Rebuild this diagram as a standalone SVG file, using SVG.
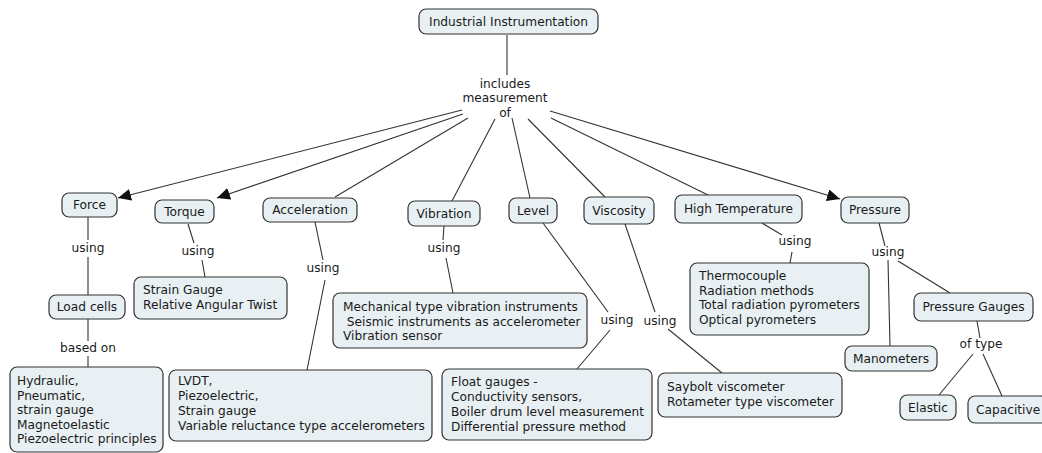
<svg xmlns="http://www.w3.org/2000/svg" width="1042" height="453" viewBox="0 0 1042 453">
<style>
.n{fill:#e8f0f3;stroke:#333;stroke-width:1.2}
text{font-family:"DejaVu Sans","Verdana",sans-serif;font-size:12.2px;fill:#1a1a1a}
.c{text-anchor:middle}
.l{fill:none;stroke:#333;stroke-width:1.1}
</style>
<defs>
<marker id="ah" markerUnits="userSpaceOnUse" markerWidth="14" markerHeight="12" refX="13" refY="6" orient="auto">
<path d="M0,0 L13,6 L0,12 Z" fill="#111"/>
</marker>
</defs>
<rect width="1042" height="453" fill="#fff"/>
<g id="connectors">
<line class="l" x1="507" y1="35" x2="507" y2="75"/>
<line class="l" x1="462" y1="110" x2="118" y2="198" marker-end="url(#ah)"/>
<line class="l" x1="463" y1="114" x2="217" y2="198" marker-end="url(#ah)"/>
<line class="l" x1="468" y1="118" x2="335" y2="197"/>
<line class="l" x1="495" y1="119" x2="452" y2="201"/>
<line class="l" x1="512" y1="118" x2="530" y2="198"/>
<line class="l" x1="528" y1="119" x2="605" y2="197"/>
<line class="l" x1="551" y1="118" x2="708" y2="195"/>
<line class="l" x1="550" y1="111" x2="840" y2="199" marker-end="url(#ah)"/>
<line class="l" x1="88" y1="217" x2="88" y2="240"/>
<line class="l" x1="88" y1="257" x2="88" y2="295"/>
<line class="l" x1="88" y1="319" x2="88" y2="341"/>
<line class="l" x1="88" y1="356" x2="88" y2="367"/>
<line class="l" x1="188" y1="224" x2="194" y2="243"/>
<line class="l" x1="202" y1="260" x2="205" y2="277"/>
<line class="l" x1="315" y1="222" x2="323" y2="260"/>
<line class="l" x1="325" y1="280" x2="307" y2="370"/>
<line class="l" x1="444" y1="226" x2="443" y2="240"/>
<line class="l" x1="446" y1="258" x2="453" y2="293"/>
<line class="l" x1="543" y1="223" x2="608" y2="312"/>
<line class="l" x1="610" y1="330" x2="577" y2="369"/>
<line class="l" x1="625" y1="224" x2="655" y2="312"/>
<line class="l" x1="668" y1="329" x2="722" y2="373"/>
<line class="l" x1="762" y1="223" x2="782" y2="235"/>
<line class="l" x1="792" y1="252" x2="790" y2="263"/>
<line class="l" x1="879" y1="223" x2="885" y2="246"/>
<line class="l" x1="888" y1="260" x2="890" y2="346"/>
<line class="l" x1="898" y1="261" x2="950" y2="293"/>
<line class="l" x1="977" y1="321" x2="980" y2="338"/>
<line class="l" x1="973" y1="354" x2="939" y2="395"/>
<line class="l" x1="983" y1="354" x2="1002" y2="396"/>
</g>
<g id="link-labels">
<text class="c" x="505" y="88">includes</text>
<text class="c" x="505" y="102">measurement</text>
<text class="c" x="505" y="116.5">of</text>
<text class="c" x="88" y="252">using</text>
<text class="c" x="88" y="352">based on</text>
<text class="c" x="198" y="255">using</text>
<text class="c" x="323" y="272">using</text>
<text class="c" x="444" y="252">using</text>
<text class="c" x="617" y="324">using</text>
<text class="c" x="660" y="325">using</text>
<text class="c" x="795" y="245">using</text>
<text class="c" x="888" y="256">using</text>
<text class="c" x="981" y="348">of type</text>
</g>
<g id="n-industrial"><rect class="n" x="419" y="9" width="179" height="25" rx="7"/><text class="c" x="508.5" y="26">Industrial Instrumentation</text></g>
<g id="n-force"><rect class="n" x="62" y="193" width="55" height="24" rx="7"/><text class="c" x="89.5" y="209">Force</text></g>
<g id="n-torque"><rect class="n" x="155" y="200" width="59" height="23" rx="7"/><text class="c" x="184.5" y="215.5">Torque</text></g>
<g id="n-acceleration"><rect class="n" x="263" y="198" width="94" height="24" rx="7"/><text class="c" x="310" y="214">Acceleration</text></g>
<g id="n-vibration"><rect class="n" x="408" y="201" width="72" height="25" rx="7"/><text class="c" x="444" y="217.5">Vibration</text></g>
<g id="n-level"><rect class="n" x="509" y="198" width="48" height="25" rx="7"/><text class="c" x="533" y="214.5">Level</text></g>
<g id="n-viscosity"><rect class="n" x="584" y="197" width="70" height="27" rx="7"/><text class="c" x="619" y="214.5">Viscosity</text></g>
<g id="n-hightemp"><rect class="n" x="675" y="195" width="127" height="28" rx="7"/><text class="c" x="738.5" y="213">High Temperature</text></g>
<g id="n-pressure"><rect class="n" x="841" y="197" width="68" height="26" rx="7"/><text class="c" x="875" y="214">Pressure</text></g>
<g id="n-loadcells"><rect class="n" x="49" y="295" width="76" height="24" rx="7"/><text class="c" x="87" y="311">Load cells</text></g>
<g id="n-torque-methods"><rect class="n" x="134" y="277" width="153" height="42" rx="7"/><text x="143" y="294">Strain Gauge</text><text x="143" y="309">Relative Angular Twist</text></g>
<g id="n-loadcell-principles"><rect class="n" x="10" y="367" width="153" height="85" rx="7"/><text x="17" y="385">Hydraulic,</text><text x="17" y="399.5">Pneumatic,</text><text x="17" y="414">strain gauge</text><text x="17" y="428.5">Magnetoelastic</text><text x="17" y="443">Piezoelectric principles</text></g>
<g id="n-accel-methods"><rect class="n" x="169" y="370" width="263" height="71" rx="7"/><text x="178" y="385">LVDT,</text><text x="178" y="400">Piezoelectric,</text><text x="178" y="415">Strain gauge</text><text x="178" y="430">Variable reluctance type accelerometers</text></g>
<g id="n-vib-methods"><rect class="n" x="333" y="293" width="254" height="55" rx="7"/><text x="343" y="311">Mechanical type vibration instruments</text><text x="343" y="326" xml:space="preserve"> Seismic instruments as accelerometer</text><text x="343" y="340">Vibration sensor</text></g>
<g id="n-level-methods"><rect class="n" x="442" y="369" width="210" height="71" rx="7"/><text x="451" y="386">Float gauges -</text><text x="451" y="401">Conductivity sensors,</text><text x="451" y="416">Boiler drum level measurement</text><text x="451" y="431">Differential pressure method</text></g>
<g id="n-visc-methods"><rect class="n" x="658" y="373" width="184" height="44" rx="7"/><text x="667" y="391">Saybolt viscometer</text><text x="667" y="406">Rotameter type viscometer</text></g>
<g id="n-temp-methods"><rect class="n" x="690" y="263" width="179" height="72" rx="7"/><text x="699" y="280">Thermocouple</text><text x="699" y="294.5">Radiation methods</text><text x="699" y="309">Total radiation pyrometers</text><text x="699" y="323.5">Optical pyrometers</text></g>
<g id="n-pressure-gauges"><rect class="n" x="914" y="293" width="119" height="28" rx="7"/><text class="c" x="973.5" y="311">Pressure Gauges</text></g>
<g id="n-manometers"><rect class="n" x="845" y="346" width="92" height="25" rx="7"/><text class="c" x="891" y="362.5">Manometers</text></g>
<g id="n-elastic"><rect class="n" x="900" y="395" width="56" height="25" rx="7"/><text class="c" x="928" y="411.5">Elastic</text></g>
<g id="n-capacitive"><rect class="n" x="968" y="396" width="80" height="27" rx="7"/><text x="976" y="413.5">Capacitive</text></g>
</svg>
